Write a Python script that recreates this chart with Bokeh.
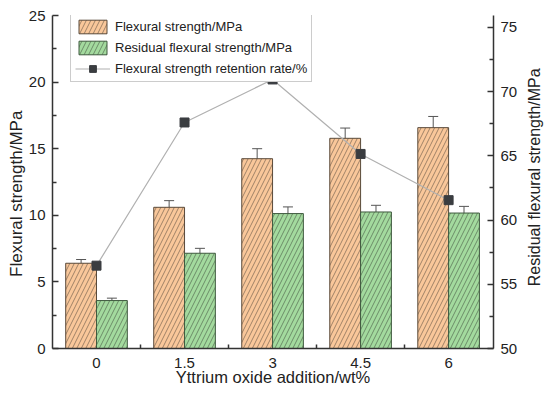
import math
from bokeh.plotting import figure
from bokeh.models import (Range1d, LinearAxis, FixedTicker, ColumnDataSource, Whisker,
                          TeeHead, Legend, LegendItem)
from bokeh.embed import file_html
from bokeh.resources import INLINE

categories = ["0", "1.5", "3", "4.5", "6"]
flexural = [6.4, 10.6, 14.25, 15.78, 16.58]
flexural_err = [0.28, 0.5, 0.75, 0.77, 0.84]
residual = [3.6, 7.15, 10.13, 10.25, 10.17]
residual_err = [0.18, 0.37, 0.5, 0.5, 0.5]
retention = [56.45, 67.6, 70.95, 65.15, 61.55]

FONT = "Liberation Sans"
ORANGE = "#F9C79A"
GREEN = "#A3DA9E"
AXC = "#333333"
TXT = "#222222"

idx = list(range(len(categories)))
bw = 0.35
src = ColumnDataSource(dict(
    x1=[i - bw / 2 for i in idx], x2=[i + bw / 2 for i in idx], xc=idx,
    f=flexural, fu=[a + b for a, b in zip(flexural, flexural_err)],
    fl=[a - b for a, b in zip(flexural, flexural_err)],
    r=residual, ru=[a + b for a, b in zip(residual, residual_err)],
    rl=[a - b for a, b in zip(residual, residual_err)],
    ret=retention,
))

FW, FH = 441, 333
p = figure(output_backend="svg", toolbar_location=None,
           x_range=Range1d(-0.5, 4.51), y_range=Range1d(0, 25),
           frame_width=FW, frame_height=FH,
           min_border_left=52, min_border_top=15, min_border_right=56, min_border_bottom=36)
p.outline_line_color = None
p.grid.visible = False
p.background_fill_color = "white"
p.border_fill_color = "white"

p.extra_y_ranges = {"right": Range1d(50, 75.93)}

b1 = p.vbar(x="x1", top="f", bottom=0, width=bw, source=src, fill_color=ORANGE,
            line_color="#5a4a3a", line_width=1, hatch_pattern="/", hatch_color="#6b5a48",
            hatch_scale=9, hatch_weight=0.8, hatch_alpha=0.8)
b2 = p.vbar(x="x2", top="r", bottom=0, width=bw, source=src, fill_color=GREEN,
            line_color="#3f5a3f", line_width=1, hatch_pattern="/", hatch_color="#4b5e48",
            hatch_scale=9, hatch_weight=0.8, hatch_alpha=0.8)

for base, up, lo in (("x1", "fu", "fl"), ("x2", "ru", "rl")):
    w = Whisker(base=base, upper=up, lower=lo, source=src, line_color="#555555", line_width=1,
                upper_head=TeeHead(size=10, line_color="#555555", line_width=1),
                lower_head=TeeHead(size=10, line_color="#555555", line_width=1))
    p.add_layout(w)

ln = p.line(x="xc", y="ret", source=src, y_range_name="right", line_color="#b0b0b0",
            line_width=1.2, level="overlay")
mk = p.scatter(x="xc", y="ret", source=src, y_range_name="right", marker="square", size=9,
               fill_color="#3a3d40", line_color="#3a3d40", level="overlay")

# bottom axis
xa = p.xaxis[0]
xa.ticker = FixedTicker(ticks=idx, minor_ticks=[i + 0.5 for i in idx[:-1]])
xa.major_label_overrides = {i: c for i, c in zip(idx, categories)}
xa.axis_label = "Yttrium oxide addition/wt%"

# left axis
ya = p.yaxis[0]
ya.ticker = FixedTicker(ticks=[0, 5, 10, 15, 20, 25], minor_ticks=[2.5, 7.5, 12.5, 17.5, 22.5])

# right axis
ra = LinearAxis(y_range_name="right",
                ticker=FixedTicker(ticks=[50, 55, 60, 65, 70, 75],
                                   minor_ticks=[52.5, 57.5, 62.5, 67.5, 72.5]))
p.add_layout(ra, "right")

for ax in (xa, ya, ra):
    ax.axis_line_color = AXC
    ax.axis_line_width = 1.5
    ax.major_tick_line_color = AXC
    ax.minor_tick_line_color = AXC
    ax.major_tick_line_width = 1.5
    ax.minor_tick_line_width = 1.5
    ax.major_tick_in = 6
    ax.major_tick_out = 0
    ax.minor_tick_in = 4
    ax.minor_tick_out = 0
    ax.major_label_text_font = FONT
    ax.major_label_text_font_size = "15px"
    ax.major_label_text_color = TXT
    ax.axis_label_text_font = FONT
    ax.axis_label_text_font_size = "16.5px"
    ax.axis_label_text_font_style = "normal"
    ax.axis_label_text_color = TXT
    ax.major_label_standoff = 7

xa.major_tick_in = 0
xa.major_label_standoff = 9
xa.axis_label_standoff = -3


def bare_axis(side, range_name="default", ticks=()):
    ax = LinearAxis(y_range_name=range_name, ticker=FixedTicker(ticks=list(ticks)))
    ax.axis_line_color = None
    ax.major_tick_line_color = None
    ax.minor_tick_line_color = None
    ax.major_tick_in = 0
    ax.major_tick_out = 0
    ax.minor_tick_in = 0
    ax.minor_tick_out = 0
    p.add_layout(ax, side)
    return ax


# left title: axis label of a bare axis (reads bottom to top)
lt = bare_axis("left")
lt.major_label_text_font_size = "0px"
lt.major_label_standoff = 0
lt.axis_label = "Flexural strength/MPa" + "\u00a0" * 5
lt.axis_label_standoff = 0
lt.axis_label_text_font = FONT
lt.axis_label_text_font_size = "17px"
lt.axis_label_text_font_style = "normal"
lt.axis_label_text_color = TXT

# right title: a single rotated tick label of a bare axis (reads bottom to top)
rt = bare_axis("right", "right", [54.85])
rt.major_label_overrides = {54.85: "Residual flexural strength/MPa"}
rt.major_label_orientation = math.pi / 2
rt.major_label_standoff = 14
rt.major_label_text_font = FONT
rt.major_label_text_font_size = "16px"
rt.major_label_text_color = TXT

legend = Legend(items=[
    LegendItem(label="Flexural strength/MPa", renderers=[b1]),
    LegendItem(label="Residual flexural strength/MPa", renderers=[b2]),
    LegendItem(label="Flexural strength retention rate/%", renderers=[ln, mk]),
], location=(18, 266))
legend.label_text_font = FONT
legend.label_text_font_size = "13px"
legend.label_text_color = TXT
legend.glyph_width = 35
legend.glyph_height = 17
legend.spacing = 4
legend.padding = 4
legend.margin = 0
legend.label_standoff = 5
legend.border_line_color = "#999999"
legend.border_line_width = 1
legend.background_fill_alpha = 1
p.add_layout(legend, "center")

open("out.html", "w").write(file_html(p, INLINE))
